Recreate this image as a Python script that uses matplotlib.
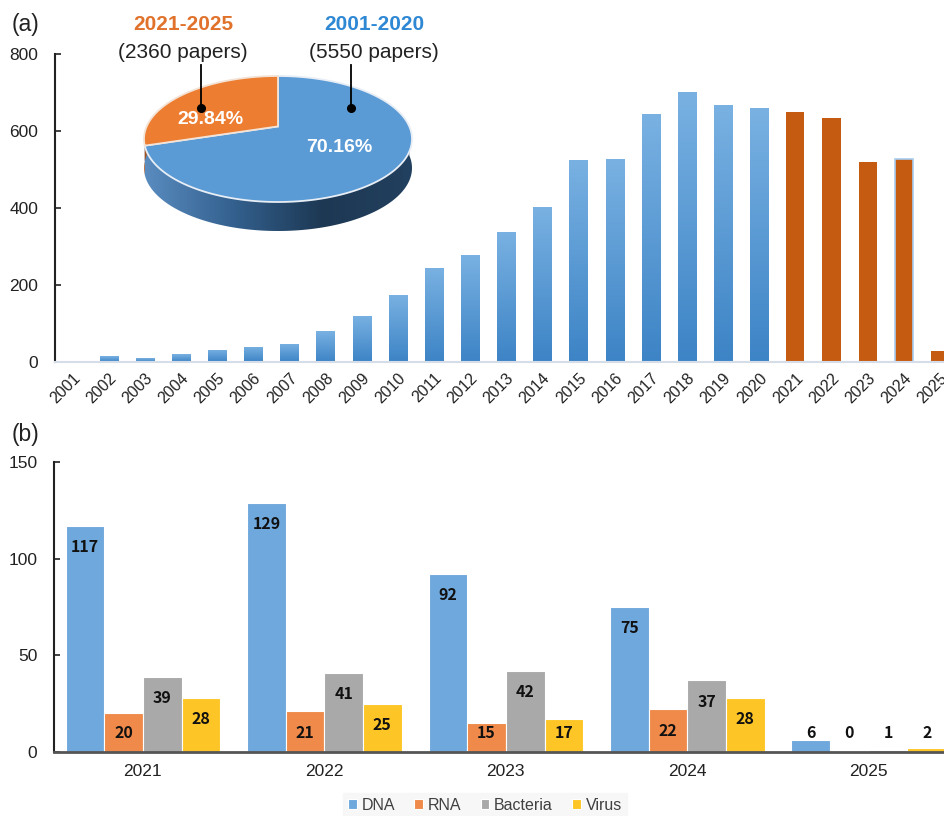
import numpy as np
import matplotlib.pyplot as plt
from matplotlib.colors import LinearSegmentedColormap
from matplotlib.patches import Polygon

# Panel (a): papers per year
years = [str(y) for y in range(2001, 2026)]
papers = [3, 15, 10, 20, 32, 40, 48, 80, 120, 175, 245, 278, 338, 403, 525,
          526, 644, 702, 667, 659, 650, 633, 519, 527, 28]
period_labels = ['2001-2020', '2021-2025']
period_totals = [5550, 2360]

# Panel (b): papers per target, 2021-2025
groups = ['2021', '2022', '2023', '2024', '2025']
targets = ['DNA', 'RNA', 'Bacteria', 'Virus']
dna = [117, 129, 92, 75, 6]
rna = [20, 21, 15, 22, 0]
bacteria = [39, 41, 42, 37, 1]
virus = [28, 25, 17, 28, 2]

W, H = 945, 816
fig = plt.figure(figsize=(W / 100, H / 100), dpi=100)
plt.rcParams['font.family'] = ['Liberation Sans', 'DejaVu Sans']


def box(x0, y0, x1, y1):
    # pixel box (top-left origin) -> figure fraction rect
    return [x0 / W, 1 - y1 / H, (x1 - x0) / W, (y1 - y0) / H]


def fpt(x, y):
    return x / W, 1 - y / H


# ---------- (a) ----------
ax1 = fig.add_axes(box(55, 54, 945, 362))
xa = np.arange(len(years))
blue_grad = LinearSegmentedColormap.from_list('bg', ['#3d84c6', '#79b1e2'])
grad = np.linspace(0, 1, 100).reshape(-1, 1)
bars = ax1.bar(xa, papers, width=0.5, color='none', edgecolor='none')
for i, b in enumerate(bars):
    if int(years[i]) <= 2020:
        im = ax1.imshow(grad, cmap=blue_grad, origin='lower', aspect='auto',
                        extent=[b.get_x(), b.get_x() + b.get_width(), 0, b.get_height()])
        im.set_clip_path(b)
    else:
        b.set_facecolor('#c55a11')
b_2024 = bars[years.index('2024')]
b_2024.set_edgecolor('#a8cdf0')
b_2024.set_linewidth(1.2)
ax1.set_xlim(-0.484, 24.14)
ax1.set_ylim(0, 800)
ax1.set_yticks([0, 200, 400, 600, 800])
ax1.set_xticks(xa)
ax1.set_xticklabels(years, rotation=45, ha='right', va='top', rotation_mode='anchor',
                    fontsize=11.5, color='#222222')
ax1.tick_params(axis='y', labelsize=12.5, length=4, width=1.2, colors='#222222',
                direction='in', pad=12)
ax1.tick_params(axis='x', length=0, pad=6)
for s in ['top', 'right']:
    ax1.spines[s].set_visible(False)
ax1.spines['left'].set_linewidth(1.5)
ax1.spines['left'].set_color('#222222')
ax1.spines['bottom'].set_color('#d5dde8')
ax1.spines['bottom'].set_linewidth(1.5)
fig.text(*fpt(12, 25), '(a)', fontsize=16.5, va='center', ha='left', color='#222222')

# 3D pie inset (simple perspective: p tilts the far half smaller)
axp = fig.add_axes(box(128, 60, 428, 245))
axp.set_xlim(-150, 150)
axp.set_ylim(-106, 79)
axp.axis('off')
rx, ry, depth, p = 134, 63, 29, 0.2
shares = np.array(period_totals) / sum(period_totals)
t_start = 90
t_split = 90 + 360 * shares[1]


def proj(t, dy=0.0):
    s, c = np.sin(t), np.cos(t)
    X = c / (1 + p * s) * np.sqrt(1 - p ** 2) * rx
    Y = (s / (1 + p * s) + p / (1 - p ** 2)) * (1 - p ** 2) * ry
    return np.column_stack([X, Y + dy])


def ell(t0, t1, n=200, dy=0.0):
    return proj(np.radians(np.linspace(t0, t1, n)), dy)


apex = proj(np.array([0.0]))[0] * 0 + np.array([0, p * ry])

# side walls (front half)
side_blue = np.vstack([ell(t_split, 360), ell(360, t_split, dy=-depth)])
side_poly = Polygon(side_blue, closed=True, facecolor='none', edgecolor='none')
axp.add_patch(side_poly)
side_cmap = LinearSegmentedColormap.from_list('side', ['#5a8cc0', '#33608e', '#1d3853', '#22405f'])
im = axp.imshow(np.linspace(0, 1, 200).reshape(1, -1), cmap=side_cmap, aspect='auto',
                extent=[-rx, rx, -ry - depth, 0], zorder=1)
im.set_clip_path(side_poly)
side_or = np.vstack([ell(180, t_split), ell(t_split, 180, dy=-depth)])
axp.add_patch(Polygon(side_or, closed=True, facecolor='#a9521a', edgecolor='none', zorder=1))

# top faces
top_or = np.vstack([apex, ell(t_start, t_split)])
top_bl = np.vstack([apex, ell(t_split, t_start + 360)])
axp.add_patch(Polygon(top_bl, closed=True, facecolor='#5b9bd5', edgecolor='#e8eef6', lw=1.3, zorder=2))
axp.add_patch(Polygon(top_or, closed=True, facecolor='#ed7d31', edgecolor='#f3e3d6', lw=1.3, zorder=2))
axp.text(-68, 19, f'{shares[1] * 100:.2f}%', color='white', fontsize=14,
         fontweight='bold', ha='center', va='center', zorder=3)
axp.text(61, -9, f'{shares[0] * 100:.2f}%', color='white', fontsize=14,
         fontweight='bold', ha='center', va='center', zorder=3)

# pie captions and leader lines
fig.text(*fpt(183, 24), period_labels[1], color='#e0722c', fontsize=15,
         fontweight='bold', ha='center', va='center')
fig.text(*fpt(183, 52), f'({period_totals[1]} papers)', color='#222222', fontsize=15,
         ha='center', va='center')
fig.text(*fpt(374, 24), period_labels[0], color='#2f88d4', fontsize=15,
         fontweight='bold', ha='center', va='center')
fig.text(*fpt(374, 52), f'({period_totals[0]} papers)', color='#222222', fontsize=15,
         ha='center', va='center')
for lx in [201, 351]:
    x0, y0 = fpt(lx, 65)
    x1, y1 = fpt(lx, 108)
    fig.add_artist(plt.Line2D([x0, x1], [y0, y1], color='black', lw=1.3))
    fig.add_artist(plt.Line2D([x1], [y1], marker='o', markersize=5.5, color='black'))

# ---------- (b) ----------
ax2 = fig.add_axes(box(54, 462, 945, 752))
xg = np.arange(len(groups))
w = 0.213
series = [dna, rna, bacteria, virus]
colors = ['#6fa8dc', '#ef8a4a', '#a9a9a9', '#fdc525']
for k, (vals, col, name) in enumerate(zip(series, colors, targets)):
    pos = xg + (k - 1.5) * w
    ax2.bar(pos, vals, width=w, color=col, edgecolor='white', linewidth=0.8, label=name)
    for xp, v in zip(pos, vals):
        ax2.text(xp, max(v - 11, 10), str(v), ha='center', va='center',
                 fontsize=11.5, fontweight='bold', color='#111111',
                 family=['Noto Sans CJK KR', 'DejaVu Sans'])
ax2.set_xlim(-0.49, 4.42)
ax2.set_ylim(0, 150)
ax2.set_yticks([0, 50, 100, 150])
ax2.set_xticks(xg)
ax2.set_xticklabels(groups, fontsize=12.5, color='#222222')
ax2.tick_params(axis='y', labelsize=12.5, length=4, width=1.2, colors='#222222',
                direction='in', pad=12)
ax2.tick_params(axis='x', length=0, pad=9)
for s in ['top', 'right']:
    ax2.spines[s].set_visible(False)
ax2.spines['left'].set_linewidth(1.5)
ax2.spines['left'].set_color('#222222')
ax2.spines['bottom'].set_linewidth(2)
ax2.spines['bottom'].set_color('#555555')
fig.text(*fpt(12, 435), '(b)', fontsize=16.5, va='center', ha='left', color='#222222')

leg = fig.legend(loc='center', bbox_to_anchor=fpt(485, 805), ncol=4, frameon=True,
                 fontsize=11.5, handlelength=0.55, handleheight=0.55, handletextpad=0.3,
                 columnspacing=1.2, borderpad=0.3, fancybox=False)
leg.get_frame().set_facecolor('#f6f6f6')
leg.get_frame().set_edgecolor('#f6f6f6')
for t in leg.get_texts():
    t.set_color('#404040')

fig.savefig('out.png', dpi=100)
